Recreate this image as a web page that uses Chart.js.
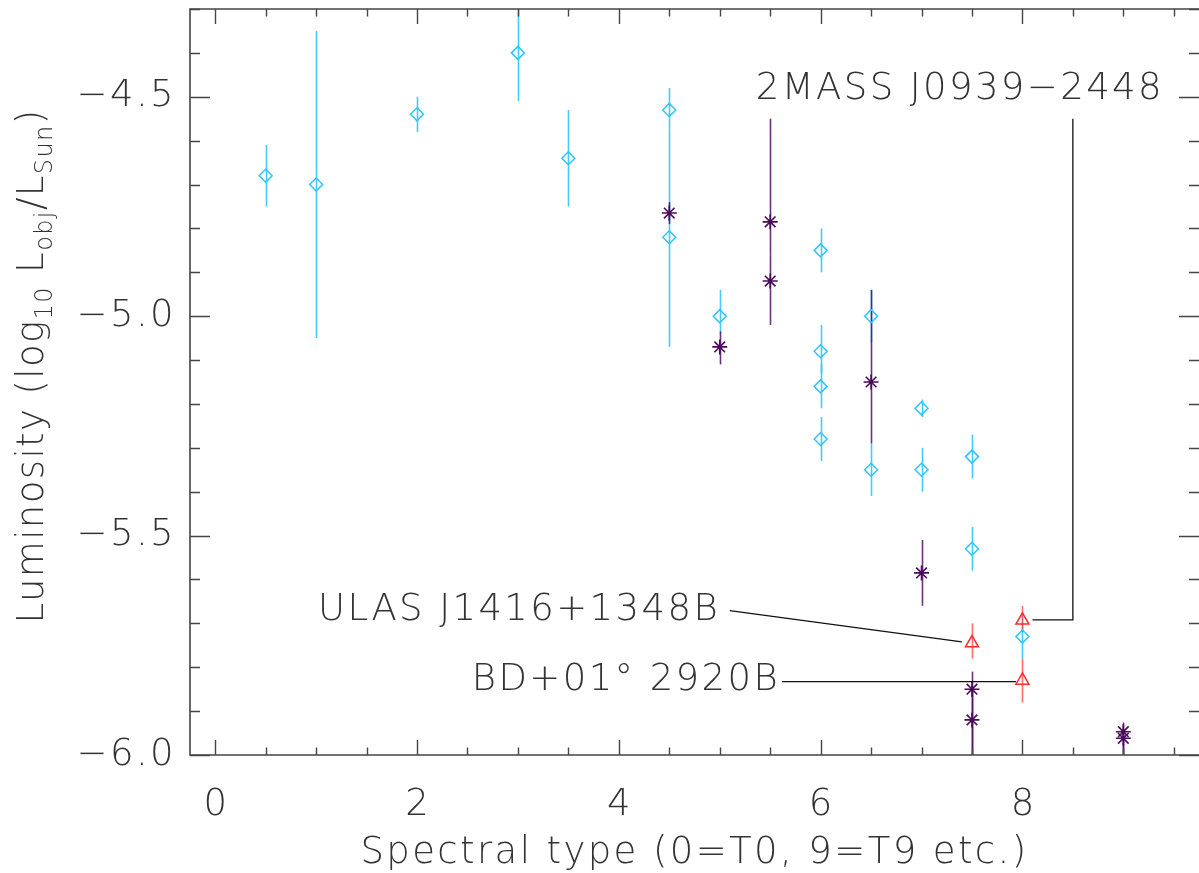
<!DOCTYPE html>
<html><head><meta charset="utf-8">
<script src="https://cdn.jsdelivr.net/npm/chart.js@4.4.0/dist/chart.umd.min.js"></script>
<style>html,body{margin:0;padding:0;background:#fff;}#wrap{width:1199px;height:873px;position:relative;}canvas{display:block;}</style>
</head><body><div id="wrap"><canvas id="c" width="1199" height="873" style="width:1199px;height:873px"></canvas></div>
<script>
// ---- data ----
const xTickValues = [0, 2, 4, 6, 8];
const yTickValues = [-6.0, -5.5, -5.0, -4.5];

const cyanType = [0.5, 1.0, 2.0, 3.0, 3.5, 4.5, 4.5, 5.0, 6.0, 6.0, 6.0, 6.0, 6.5, 6.5, 7.0, 7.0, 7.5, 7.5, 8.0];
const cyanLum  = [-4.68, -4.70, -4.54, -4.40, -4.64, -4.53, -4.82, -5.00, -4.85, -5.08, -5.16, -5.28, -5.00, -5.35, -5.21, -5.35, -5.32, -5.53, -5.73];
const cyanLo   = [-4.75, -5.05, -4.58, -4.51, -4.75, -4.575, -5.07, -5.04, -4.90, -5.13, -5.21, -5.33, -5.06, -5.41, -5.23, -5.40, -5.37, -5.58, -5.78];
const cyanHi   = [-4.61, -4.35, -4.50, -4.28, -4.53, -4.48, -4.575, -4.94, -4.80, -5.02, -5.11, -5.23, -4.94, -5.29, -5.19, -5.30, -5.27, -5.48, -5.68];

const purpleType = [4.5, 5.0, 5.5, 5.5, 6.5, 7.0, 7.5, 7.5, 9.0, 9.0];
const purpleLum  = [-4.765, -5.07, -4.785, -4.92, -5.15, -5.585, -5.85, -5.92, -5.947, -5.962];
const purpleLo   = [-4.79, -5.11, -4.86, -5.02, -5.29, -5.66, -6.05, -6.05, -6.0, -6.0];
const purpleHi   = [-4.74, -5.035, -4.55, -4.86, -4.94, -5.51, -5.81, -5.85, -5.926, -5.94];

const redType = [7.5, 8.0, 8.0];
const redLum  = [-5.745, -5.693, -5.83];
const redLo   = [-5.78, -5.72, -5.88];
const redHi   = [-5.70, -5.66, -5.78];

const labelNames = ['2MASS J0939\u22122448', 'ULAS J1416+1348B', 'BD+01\u00b0 2920B'];
const labelAnchorX = [9.383, 4.983, 5.578];
const labelAnchorY = [-4.505, -5.692, -5.853];
const leaderLines = [
  [[8.5, -4.55], [8.5, -5.692], [8.1, -5.692]],
  [[5.10, -5.671], [7.40, -5.742]],
  [[5.617, -5.833], [7.936, -5.833]]
];

const xTitle = 'Spectral type (0=T0, 9=T9 etc.)';
const yTitleParts = [['Luminosity (log', 0], ['10', 1], [' L', 0], ['obj', 1], ['/L', 0], ['Sun', 1], [')', 0]];

// ---- style ----
const FAM = '"DejaVu Sans ExtraLight", "DejaVu Sans", sans-serif';
const TXT = '#333333';
const CYAN = '#2ec5ff', PURPLE = '#4a0a5c', RED = '#ff2a2a';
const SPACING = '2.4px';
const font = (s) => '200 ' + s + 'px ' + FAM;

function pts(xs, ys) { return xs.map((x, i) => ({x: x, y: ys[i]})); }

const spacingPlugin = {
  id: 'spacing',
  beforeDraw(chart) { chart.ctx.letterSpacing = SPACING; }
};

const errorBars = {
  id: 'errorBars',
  beforeDatasetsDraw(chart) {
    const ctx = chart.ctx, xs = chart.scales.x, ys = chart.scales.y, a = chart.chartArea;
    ctx.save();
    ctx.beginPath(); ctx.rect(a.left, a.top, a.right - a.left, a.bottom - a.top); ctx.clip();
    [2, 1, 0].forEach(di => {
      const ds = chart.data.datasets[di];
      ctx.strokeStyle = ds.errColor; ctx.lineWidth = 1.6;
      ds.data.forEach((p, i) => {
        const px = Math.round(xs.getPixelForValue(p.x)) + 0.5;
        ctx.beginPath();
        ctx.moveTo(px, ys.getPixelForValue(ds.lo[i]));
        ctx.lineTo(px, ys.getPixelForValue(ds.hi[i]));
        ctx.stroke();
      });
    });
    ctx.restore();
  }
};

const frameTicks = {
  id: 'frameTicks',
  afterDraw(chart) {
    const ctx = chart.ctx, xs = chart.scales.x, ys = chart.scales.y, a = chart.chartArea;
    ctx.save();
    ctx.letterSpacing = SPACING;
    ctx.strokeStyle = '#444'; ctx.lineWidth = 1.6;
    ctx.beginPath();
    ctx.moveTo(a.right + 2, a.top); ctx.lineTo(a.left, a.top); ctx.lineTo(a.left, a.bottom); ctx.lineTo(a.right + 2, a.bottom);
    ctx.stroke();
    ctx.lineWidth = 1.4;
    for (let v = 0; v <= 9.51; v += 0.5) {
      const px = Math.round(xs.getPixelForValue(v)) + 0.5;
      const major = Math.abs(v / 2 - Math.round(v / 2)) < 1e-6;
      const L = major ? 15 : 7.5;
      ctx.beginPath();
      ctx.moveTo(px, a.bottom); ctx.lineTo(px, a.bottom - L);
      ctx.moveTo(px, a.top); ctx.lineTo(px, a.top + L);
      ctx.stroke();
    }
    for (let k = -60; k <= -43; k++) {
      const v = k / 10;
      const py = Math.round(ys.getPixelForValue(v)) + 0.5;
      const major = (k % 5 === 0);
      const L = major ? 20 : 10;
      ctx.beginPath();
      ctx.moveTo(a.left, py); ctx.lineTo(a.left + L, py);
      ctx.moveTo(a.right, py); ctx.lineTo(a.right - L, py);
      ctx.stroke();
    }
    // x tick labels
    ctx.fillStyle = TXT; ctx.font = font(37);
    ctx.textAlign = 'center'; ctx.textBaseline = 'alphabetic';
    xTickValues.forEach(v => ctx.fillText(String(v), xs.getPixelForValue(v) + 1.2, a.bottom + 60));
    // x title
    ctx.fillText(xTitle, (a.left + a.right) / 2, 863);
    // y title (rotated with subscripts)
    ctx.letterSpacing = '1.4px';
    const big = 37, small = 24;
    let total = 0;
    yTitleParts.forEach(([t, sub]) => { ctx.font = font(sub ? small : big); total += ctx.measureText(t).width; });
    ctx.translate(43, 366);
    ctx.rotate(-Math.PI / 2);
    let cx = -total / 2;
    ctx.textAlign = 'left';
    yTitleParts.forEach(([t, sub]) => {
      ctx.font = font(sub ? small : big);
      ctx.fillText(t, cx, sub ? 9 : 0);
      cx += ctx.measureText(t).width;
    });
    ctx.restore();
  }
};

const annotations = {
  id: 'annotations',
  afterDatasetsDraw(chart) {
    const ctx = chart.ctx, xs = chart.scales.x, ys = chart.scales.y;
    ctx.save();
    ctx.letterSpacing = SPACING;
    ctx.strokeStyle = '#111'; ctx.lineWidth = 1.3;
    leaderLines.forEach(line => {
      ctx.beginPath();
      line.forEach(([x, y], i) => {
        const px = xs.getPixelForValue(x), py = ys.getPixelForValue(y);
        if (i === 0) ctx.moveTo(px, py); else ctx.lineTo(px, py);
      });
      ctx.stroke();
    });
    ctx.fillStyle = TXT; ctx.font = font(37);
    ctx.textAlign = 'right'; ctx.textBaseline = 'alphabetic';
    labelNames.forEach((t, i) => {
      ctx.fillText(t, xs.getPixelForValue(labelAnchorX[i]) + 2, ys.getPixelForValue(labelAnchorY[i]));
    });
    ctx.restore();
  }
};

new Chart(document.getElementById('c'), {
  type: 'scatter',
  data: {
    datasets: [
      { label: 'red', data: pts(redType, redLum), lo: redLo, hi: redHi, errColor: 'rgba(255,60,60,0.75)',
        pointStyle: 'triangle', radius: 7.5, borderColor: RED, backgroundColor: 'rgba(0,0,0,0)', borderWidth: 1.5, order: 0 },
      { label: 'purple', data: pts(purpleType, purpleLum), lo: purpleLo, hi: purpleHi, errColor: 'rgba(80,15,100,0.85)',
        pointStyle: 'star', radius: 7.5, borderColor: PURPLE, backgroundColor: 'rgba(0,0,0,0)', borderWidth: 1.6, order: 1 },
      { label: 'cyan', data: pts(cyanType, cyanLum), lo: cyanLo, hi: cyanHi, errColor: 'rgba(46,197,255,0.9)',
        pointStyle: 'rectRot', radius: 6.5, borderColor: CYAN, backgroundColor: 'rgba(0,0,0,0)', borderWidth: 1.5, order: 2 }
    ]
  },
  options: {
    responsive: false, maintainAspectRatio: false, animation: false, devicePixelRatio: 1,
    layout: { autoPadding: false, padding: { top: 9, right: 0, left: 0, bottom: 0 } },
    plugins: { legend: { display: false }, tooltip: { enabled: false } },
    elements: { point: { hoverRadius: 7 } },
    scales: {
      x: {
        type: 'linear', min: -0.25, max: 9.75,
        afterBuildTicks: s => { s.ticks = xTickValues.map(v => ({ value: v })); },
        afterFit: s => { s.height = 118; s.paddingLeft = 0; s.paddingRight = 0; s.paddingTop = 0; s.paddingBottom = 0; },
        grid: { display: false, drawTicks: false }, border: { display: false },
        ticks: { display: false }
      },
      y: {
        type: 'linear', min: -6.0, max: -4.3,
        afterBuildTicks: s => { s.ticks = yTickValues.map(v => ({ value: v })); },
        afterFit: s => { s.width = 190; s.paddingLeft = 0; s.paddingRight = 0; s.paddingTop = 0; s.paddingBottom = 0; },
        grid: { display: false, drawTicks: false }, border: { display: false },
        ticks: { color: TXT, font: { family: FAM, size: 37, weight: 200 }, padding: 14, autoSkip: false,
                 callback: v => '\u2212' + Math.abs(v).toFixed(1) }
      }
    }
  },
  plugins: [spacingPlugin, errorBars, annotations, frameTicks]
});
</script></body></html>
